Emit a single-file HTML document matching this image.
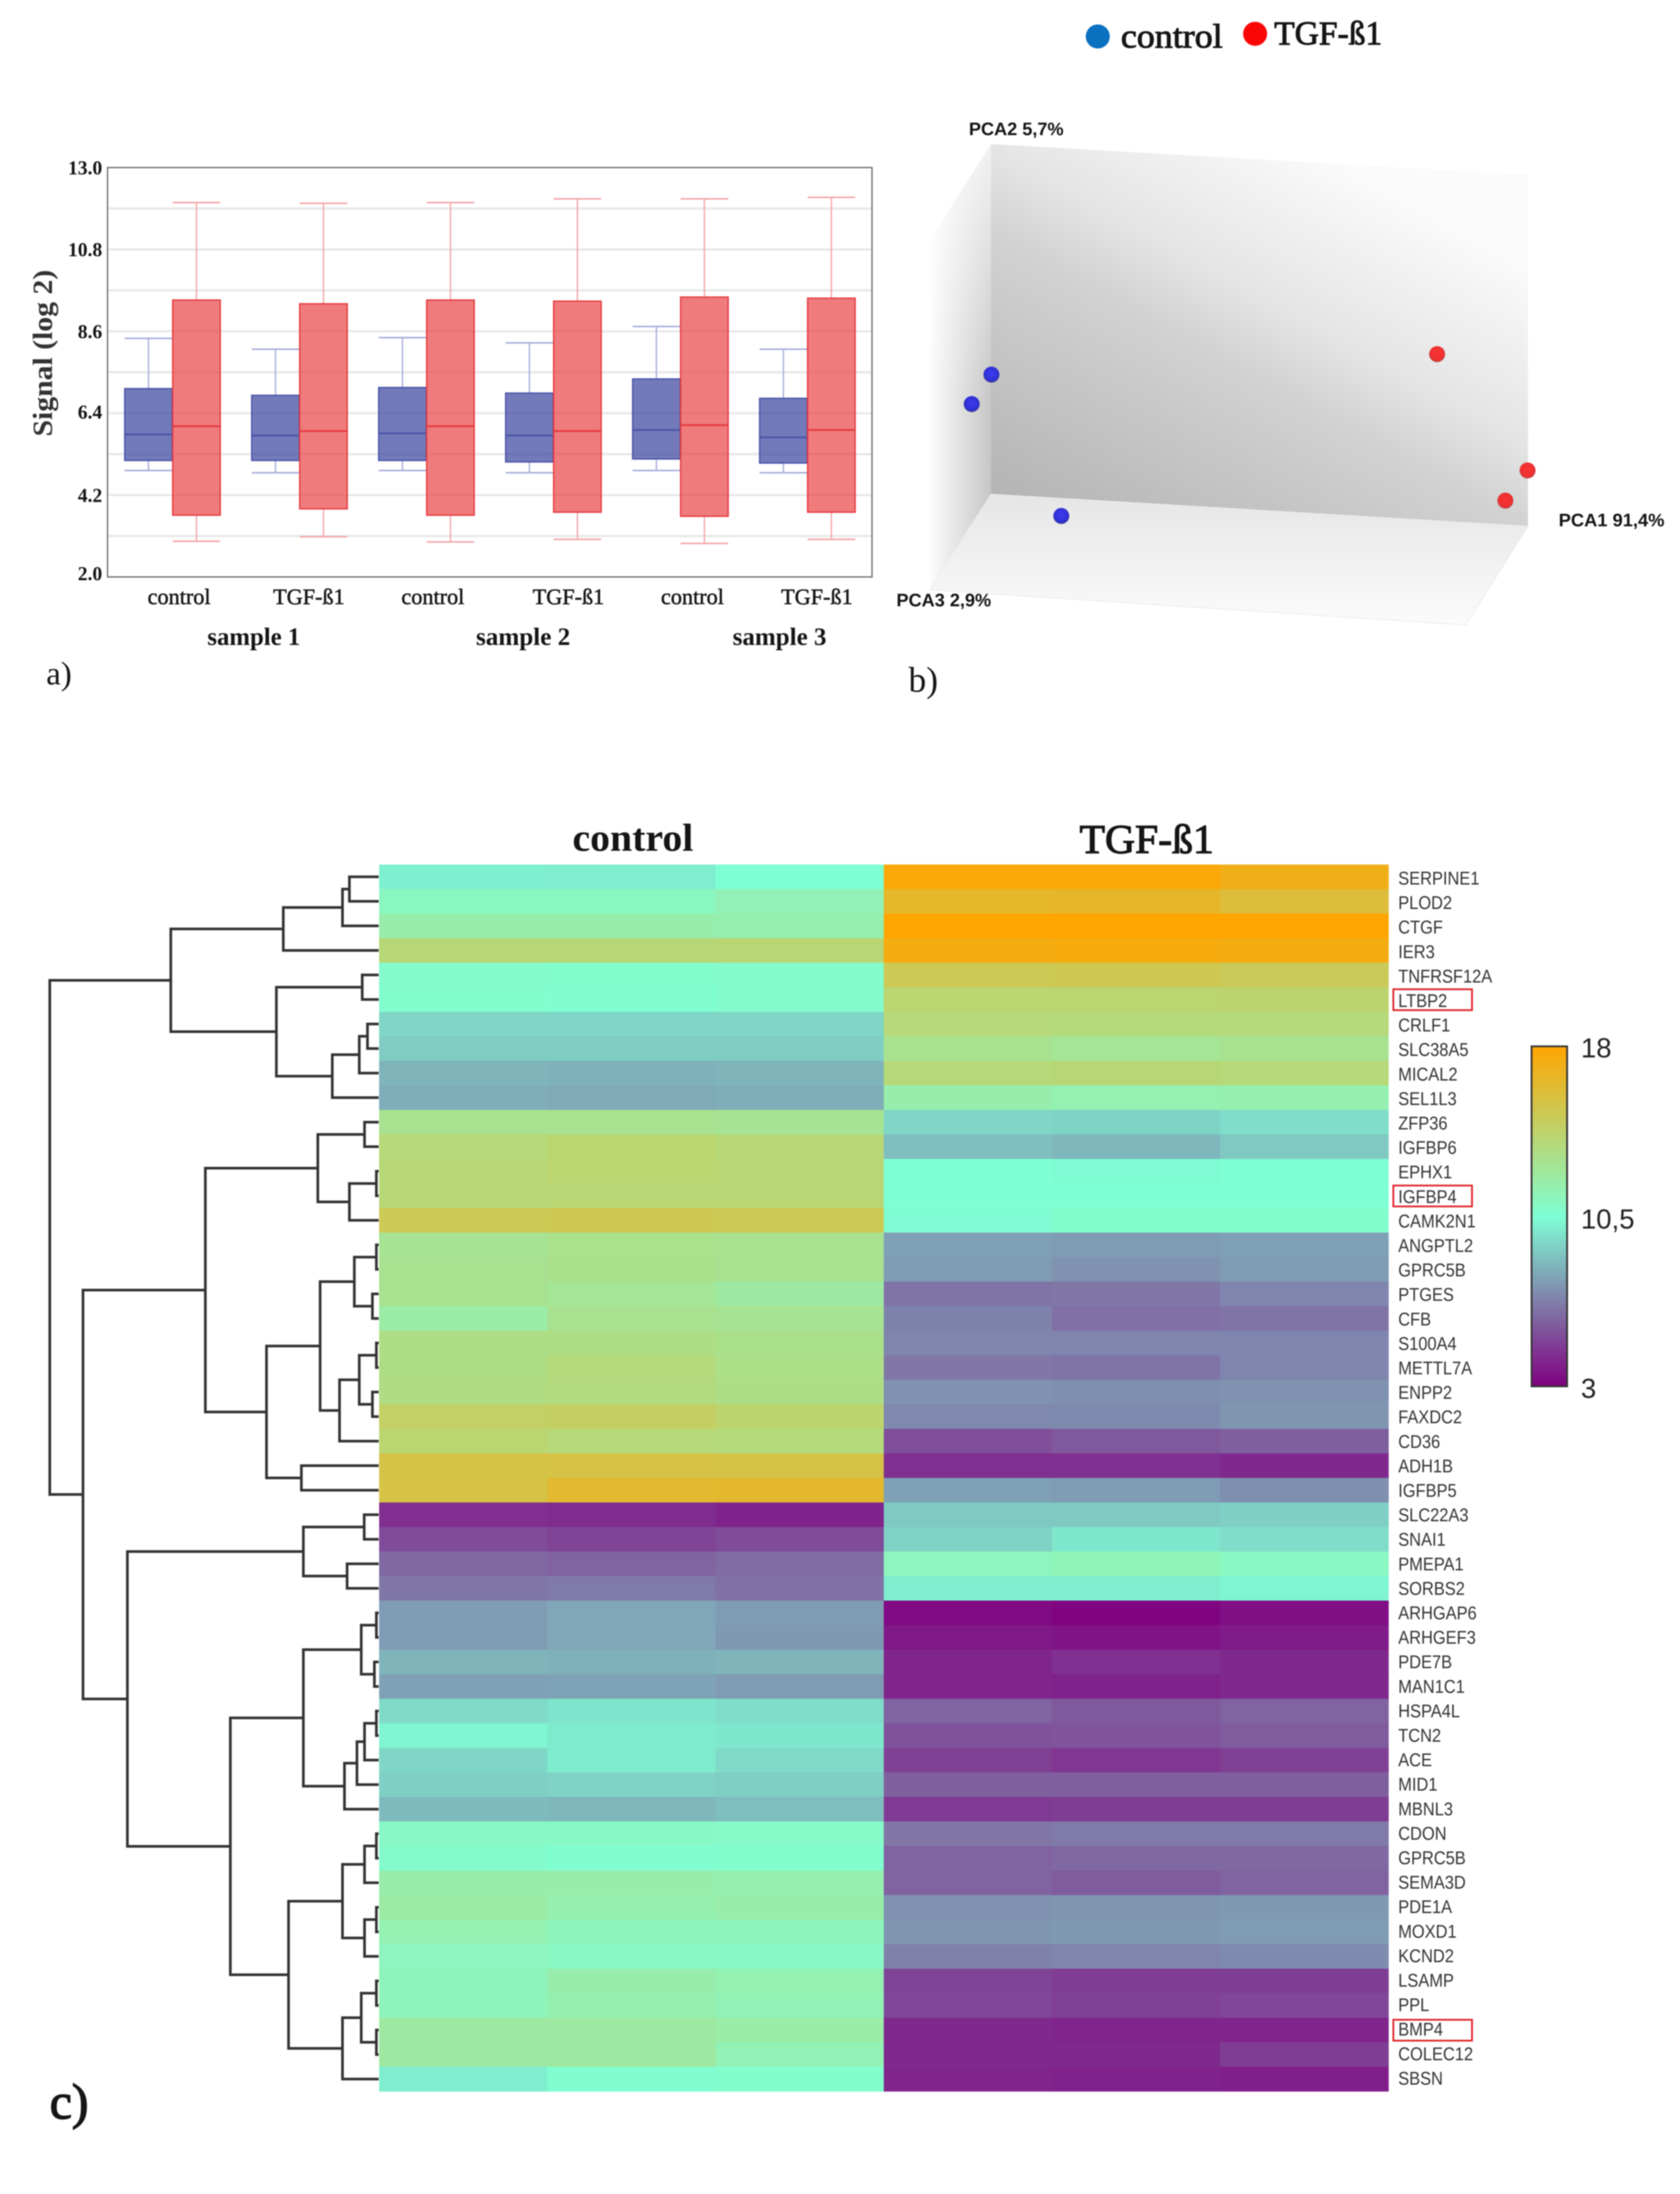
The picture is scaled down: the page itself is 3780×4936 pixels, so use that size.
<!DOCTYPE html>
<html lang="en">
<head>
<meta charset="utf-8">
<title>Expression analysis: box plot, PCA and heatmap</title>
<style>
html,body{margin:0;padding:0;background:#fff}
svg{display:block;filter:blur(1.2px)}
text{font-family:"Liberation Serif",serif;fill:#151515}
.sans{font-family:"Liberation Sans",sans-serif}
</style>
</head>
<body>
<svg id="fig" xmlns="http://www.w3.org/2000/svg" width="3780" height="4936" viewBox="0 0 3780 4936">
<defs>
  <linearGradient id="backGrad" gradientUnits="userSpaceOnUse" x1="2230" y1="1112" x2="2730" y2="200">
    <stop offset="0" stop-color="#b4b4b4"/><stop offset=".5" stop-color="#d2d2d2"/><stop offset=".65" stop-color="#e4e4e4"/><stop offset="1" stop-color="#fbfbfb"/>
  </linearGradient>
  <linearGradient id="leftGrad" gradientUnits="userSpaceOnUse" x1="2092" y1="0" x2="2230" y2="0">
    <stop offset="0" stop-color="#fcfcfc"/><stop offset="1" stop-color="#c6c6c6"/>
  </linearGradient>
  <linearGradient id="leftFade" gradientUnits="userSpaceOnUse" x1="0" y1="330" x2="0" y2="900">
    <stop offset="0" stop-color="#fff" stop-opacity=".75"/><stop offset="1" stop-color="#fff" stop-opacity="0"/>
  </linearGradient>
  <linearGradient id="floorGrad" gradientUnits="userSpaceOnUse" x1="0" y1="1120" x2="0" y2="1400">
    <stop offset="0" stop-color="#e6e6e6"/><stop offset="1" stop-color="#fbfbfb"/>
  </linearGradient>
  <linearGradient id="barGrad" x1="0" y1="0" x2="0" y2="1">
    <stop offset="0" stop-color="#ffa500"/><stop offset=".5" stop-color="#7fffd4"/><stop offset="1" stop-color="#800080"/>
  </linearGradient>
  <radialGradient id="blueDot" cx=".5" cy=".45" r=".55">
    <stop offset="0" stop-color="#3c3cf0"/><stop offset=".75" stop-color="#3030d8"/><stop offset="1" stop-color="#38388c"/>
  </radialGradient>
  <radialGradient id="redDot" cx=".5" cy=".45" r=".55">
    <stop offset="0" stop-color="#f83434"/><stop offset=".75" stop-color="#ee3030"/><stop offset="1" stop-color="#b84848"/>
  </radialGradient>
</defs>

<g id="panelA">
  <text transform="translate(117,982) rotate(-90)" font-size="62" font-weight="bold" textLength="375" lengthAdjust="spacingAndGlyphs" style="fill:#333">Signal (log 2)</text>
  <g id="gridLayer"></g>
  <g id="boxLayer"></g>
  <rect x="242" y="377" width="1720" height="921" fill="none" stroke="#6e6e6e" stroke-width="3"/>
  <g id="tickLayer"></g>
  <g font-size="50" text-anchor="middle" stroke="#151515" stroke-width="1">
    <text x="403" y="1359">control</text>
    <text x="695" y="1359">TGF-ß1</text>
    <text x="974" y="1359">control</text>
    <text x="1279" y="1359">TGF-ß1</text>
    <text x="1558" y="1359">control</text>
    <text x="1838" y="1359">TGF-ß1</text>
  </g>
  <g font-size="56" text-anchor="middle" font-weight="bold">
    <text x="571" y="1451" textLength="209" lengthAdjust="spacingAndGlyphs">sample 1</text>
    <text x="1177" y="1451" textLength="212" lengthAdjust="spacingAndGlyphs">sample 2</text>
    <text x="1754" y="1451" textLength="211" lengthAdjust="spacingAndGlyphs">sample 3</text>
  </g>
  <text x="104" y="1540" font-size="74">a)</text>
</g>

<g id="panelB">
  <circle cx="2470" cy="82" r="27" fill="#0a70c0"/>
  <text x="2522" y="107" font-size="76" stroke="#151515" stroke-width="2" textLength="229" lengthAdjust="spacingAndGlyphs">control</text>
  <circle cx="2824" cy="76" r="27" fill="#fb0606"/>
  <text x="2867" y="100" font-size="75" stroke="#151515" stroke-width="2" textLength="243" lengthAdjust="spacingAndGlyphs">TGF-ß1</text>

  <polygon points="2230,324 3438,393 3438,1184 2230,1112" fill="url(#backGrad)"/>
  <polygon points="2092,541 2230,324 2230,1112 2092,1327" fill="url(#leftGrad)"/>
  <polygon points="2092,541 2230,324 2230,1112 2092,1327" fill="url(#leftFade)"/>
  <polygon points="2092,1327 2230,1112 3438,1184 3298,1406" fill="url(#floorGrad)" stroke="#ececec" stroke-width="2"/>
  <g id="pcaLayer"></g>
  <g class="sans" font-size="41" font-weight="bold" style="font-family:'Liberation Sans',sans-serif">
    <text class="sans" x="2180" y="304" textLength="213" lengthAdjust="spacingAndGlyphs">PCA2 5,7%</text>
    <text class="sans" x="3507" y="1184" textLength="238" lengthAdjust="spacingAndGlyphs">PCA1 91,4%</text>
    <text class="sans" x="2017" y="1364" textLength="213" lengthAdjust="spacingAndGlyphs">PCA3 2,9%</text>
  </g>
  <text x="2044" y="1556" font-size="80">b)</text>
</g>

<g id="panelC">
  <text x="1288" y="1914" font-size="88" font-weight="bold" textLength="272" lengthAdjust="spacingAndGlyphs">control</text>
  <text x="2429" y="1919" font-size="92" stroke="#151515" stroke-width="2.4" textLength="302" lengthAdjust="spacingAndGlyphs">TGF-ß1</text>
  <g id="dendroLayer"></g>
  <g id="heatLayer"></g>
  <g id="geneLayer"></g>
  <rect x="3446" y="2354" width="80" height="765" fill="url(#barGrad)" stroke="#333" stroke-width="4"/>
  <g class="sans" style="font-family:'Liberation Sans',sans-serif" font-size="62">
    <text class="sans" x="3557" y="2379" style="fill:#222">18</text>
    <text class="sans" x="3557" y="2764" style="fill:#222">10,5</text>
    <text class="sans" x="3557" y="3145" style="fill:#222">3</text>
  </g>
  <text x="112" y="4766" font-size="112" stroke="#151515" stroke-width="3">c)</text>
</g>
</svg>

<script>
// ---------- Panel a: box plot data (log2 signal) ----------
const yTickValues = [2.0, 4.2, 6.4, 8.6, 10.8, 13.0];
const yTickLabels = ['2.0', '4.2', '6.4', '8.6', '10.8', '13.0'];
const gridValues = [11.9, 10.8, 9.7, 8.6, 7.5, 6.4, 5.3, 4.2, 3.1];
const blueMax = [8.41, 8.12, 8.43, 8.29, 8.73, 8.12];
const blueQ3 = [7.06, 6.88, 7.09, 6.94, 7.32, 6.80];
const blueMed = [5.83, 5.80, 5.86, 5.80, 5.95, 5.75];
const blueQ1 = [5.13, 5.13, 5.13, 5.09, 5.17, 5.06];
const blueMin = [4.86, 4.80, 4.86, 4.80, 4.86, 4.80];
const redMax = [12.06, 12.04, 12.06, 12.16, 12.16, 12.20];
const redQ3 = [9.44, 9.34, 9.44, 9.41, 9.52, 9.49];
const redMed = [6.05, 5.92, 6.05, 5.92, 6.08, 5.95];
const redQ1 = [3.66, 3.83, 3.66, 3.74, 3.63, 3.74];
const redMin = [2.96, 3.08, 2.94, 3.01, 2.90, 3.01];

// ---------- Panel b: PCA scores (normalised to the cube) ----------
const controlPca1 = [0.012, 0.021, 0.165];
const controlPca2 = [0.37, 0.396, 0.035];
const controlPca3 = [0.1, 0.5, 0.3];
const tgfPca1 = [0.865, 1.022, 1.015];
const tgfPca2 = [0.561, 0.216, 0.211];
const tgfPca3 = [0.3, 0.2, 0.5];

// ---------- Panel c: heatmap data ----------
const genes = ['SERPINE1','PLOD2','CTGF','IER3','TNFRSF12A','LTBP2','CRLF1','SLC38A5','MICAL2','SEL1L3','ZFP36','IGFBP6','EPHX1','IGFBP4','CAMK2N1','ANGPTL2','GPRC5B','PTGES','CFB','S100A4','METTL7A','ENPP2','FAXDC2','CD36','ADH1B','IGFBP5','SLC22A3','SNAI1','PMEPA1','SORBS2','ARHGAP6','ARHGEF3','PDE7B','MAN1C1','HSPA4L','TCN2','ACE','MID1','MBNL3','CDON','GPRC5B','SEMA3D','PDE1A','MOXD1','KCND2','LSAMP','PPL','BMP4','COLEC12','SBSN'];
const highlightedGenes = ['LTBP2', 'IGFBP4', 'BMP4'];
const controlValues = [
[10.05,10.0,10.5],[11.2,11.2,11.6],[11.9,11.9,11.8],[13.8,13.8,13.9],[10.8,10.7,10.8],
[10.7,10.6,10.8],[9.3,9.3,9.3],[9,9,9],[8.3,8.2,8.3],[8.1,8.0,8.1],
[12.9,12.9,12.8],[13.7,14.0,13.8],[13.8,14.0,13.9],[13.8,13.9,13.9],[15,15.1,15],
[12.8,13.0,12.9],[12.9,13.1,12.9],[12.9,12.7,12.3],[12.1,12.9,12.8],[13.3,13.3,13.1],
[13.3,13.6,13.2],[13.4,13.5,13.3],[14.4,14.5,14.1],[14.0,13.7,13.6],[15.5,15.6,15.5],
[15.6,16.3,16.4],[4.35,4.3,4.0],[5.2,5.0,5.2],[6.1,5.9,6.2],[6.5,6.6,6.3],
[7.6,7.9,7.6],[7.6,7.9,7.5],[8.3,8.2,8.3],[7.7,7.8,7.6],[9.4,9.7,9.5],
[10.2,9.9,9.8],[9.3,9.9,9.4],[9.1,9.2,9.1],[8.5,8.4,8.6],[11.0,11.0,10.9],
[10.8,10.6,10.7],[11.9,11.9,11.8],[12.2,11.8,12.0],[11.7,11.4,11.4],[11.3,11.1,11.0],
[11.4,11.9,11.7],[11.4,11.8,11.6],[12.3,12.3,12.1],[12.3,12.3,11.6],[10,10.6,10.7]
];
const tgfValues = [
[17.7,17.7,17.2],[16.5,16.6,16.0],[18,18,18],[17.4,17.5,17.4],[15,15.1,14.9],
[14,14,14.1],[13.7,13.6,13.6],[12.9,12.7,12.9],[13.7,13.8,13.7],[11.9,11.7,11.8],
[9.3,9.2,9.5],[8.6,8.4,8.9],[10.5,10.4,10.5],[10.5,10.5,10.5],[10.4,10.7,10.7],
[7.7,7.6,7.7],[7.6,7.3,7.6],[6.4,6.5,6.9],[6.85,6.3,6.4],[6.9,6.9,6.9],
[6.5,6.4,6.9],[7.3,7.2,7.3],[7.0,7.1,7.4],[5.3,5.6,5.8],[4.4,4.4,4.2],
[7.7,7.6,7.2],[8.9,8.9,9.1],[9.2,9.8,9.5],[11.3,11.5,11.1],[10,10,10.2],
[3.3,3.1,3.4],[3.7,3.6,3.8],[4.1,4.4,4.2],[4.1,4.0,4.2],[5.9,5.6,5.9],
[5.4,5.5,5.7],[4.9,4.6,4.9],[5.8,5.8,5.8],[4.7,4.8,4.8],[6.5,6.6,6.6],
[5.9,6.1,6.1],[5.9,5.7,5.9],[7.3,7.4,7.5],[7.4,7.5,7.6],[6.8,6.9,7.1],
[5.0,4.8,4.8],[5.1,4.9,5.1],[4.2,4.1,4.1],[4.2,4.2,4.8],[4.1,4.0,3.9]
];
// Dendrogram: [distance, childA, childB]; numbers are row indices of leaves.
const dendrogramTree = [100,
  [63.2,
    [29.0, [11.0, [8.9, 0, 1], 2], 3],
    [31.1, [5.0, 4, 5], [14.1, [5.9, [3.4, 6, 7], 8], 9]]
  ],
  [89.9,
    [52.7,
      [18.5, [4.3, 10, 11], [8.9, [0.7, 12, 13], 14]],
      [34.1,
        [17.8,
          [7.4, [0.7, 15, 16], [1.9, 17, 18]],
          [11.9, [5.9, [0.7, 19, 20], [1.9, 21, 22]], 23]
        ],
        [23.5, 24, 25]
      ]
    ],
    [76.4,
      [22.9, [4.4, 26, 27], [9.6, 28, 29]],
      [45.1,
        [22.9,
          [5.3, [0.7, 30, 31], [1.3, 32, 33]],
          [10.4, [6.6, [4.3, [0.7, 34, 35], 36], 37], 38]
        ],
        [27.4,
          [11.0, [4.3, [0.7, 39, 40], 41], [4.3, [0.7, 42, 43], 44]],
          [11.0, [5.3, [0.7, 45, 46], [0.7, 47, 48]], 49]
        ]
      ]
    ]
  ]
];

const SVGNS = 'http://www.w3.org/2000/svg';
function mk(tag, attrs, parent, txt) {
  const n = document.createElementNS(SVGNS, tag);
  for (const k in attrs) n.setAttribute(k, attrs[k]);
  if (txt !== undefined) n.textContent = txt;
  parent.appendChild(n);
  return n;
}

// ---------- Axis functions ----------
const yBox = v => 1298 - (v - 2) * (921 / 11);
const xPair = i => 280.6 + 285.7 * i;
const BOX_W = 107;
const projX = (a, b, c) => 2230 + 1208 * a - 138 * c;
const projY = (a, b, c) => 1112 + 72 * a - 788 * b + 215 * c;
const HM_LEFT = 853, HM_TOP = 1945, CELL_W = 378.5, ROW_H = 55.2;
const xCell = c => HM_LEFT + c * CELL_W;
const yRow = r => HM_TOP + r * ROW_H;
const yRowMid = r => yRow(r) + ROW_H / 2;
const yLabel = r => 1975 + 55.1 * r;
const xDist = d => 852 - d * 7.4;
function heatColor(v) {
  const lerp = (a, b, t) => Math.round(a + (b - a) * t);
  const low = [128, 0, 128], mid = [127, 255, 212], high = [255, 165, 0];
  const t = v <= 10.5 ? (v - 3) / 7.5 : (v - 10.5) / 7.5;
  const A = v <= 10.5 ? low : mid, B = v <= 10.5 ? mid : high;
  return 'rgb(' + lerp(A[0], B[0], t) + ',' + lerp(A[1], B[1], t) + ',' + lerp(A[2], B[2], t) + ')';
}

// ---------- Draw panel a ----------
const gridLayer = document.getElementById('gridLayer');
gridValues.forEach(v => {
  const el = mk('line', {x1: 244, x2: 1960, y1: yBox(v), y2: yBox(v), stroke: '#e8e8e8', 'stroke-width': 5}, gridLayer);
  
  
});
const tickLayer = document.getElementById('tickLayer');
yTickValues.forEach((v, i) => {
  const nudge = i === 0 ? -8 : (i === 2 ? -3 : 0);
  const el = mk('text', {x: 230, y: yBox(v) + 15 + nudge, 'text-anchor': 'end', 'font-size': 44, 'font-weight': 'bold'}, tickLayer, yTickLabels[i]);
  
  
});
function drawBox(layer, x, max, q3, med, q1, min, fill, stroke, whisk, prefix) {
  const cx = x + BOX_W / 2;
  const upper = mk('line', {x1: cx, x2: cx, y1: yBox(max), y2: yBox(q3), stroke: whisk, 'stroke-width': 3}, layer);
  
  
  const lower = mk('line', {x1: cx, x2: cx, y1: yBox(q1), y2: yBox(min), stroke: whisk, 'stroke-width': 3}, layer);
  
  
  const capTop = mk('line', {x1: x, x2: x + BOX_W, y1: yBox(max), y2: yBox(max), stroke: whisk, 'stroke-width': 3.5}, layer);
  
  
  const capLow = mk('line', {x1: x, x2: x + BOX_W, y1: yBox(min), y2: yBox(min), stroke: whisk, 'stroke-width': 3.5}, layer);
  
  
  const box = mk('rect', {x: x, y: yBox(q3), width: BOX_W, height: yBox(q1) - yBox(q3), fill: fill, stroke: stroke, 'stroke-width': 3}, layer);
  
  
  const m = mk('line', {x1: x, x2: x + BOX_W, y1: yBox(med), y2: yBox(med), stroke: stroke, 'stroke-width': 4}, layer);
  
  
}
const boxLayer = document.getElementById('boxLayer');
blueMax.forEach((_, i) => {
  drawBox(boxLayer, xPair(i), blueMax[i], blueQ3[i], blueMed[i], blueQ1[i], blueMin[i], 'rgba(60,70,160,.72)', '#4a54a8', '#a6acda', 'control');
  drawBox(boxLayer, xPair(i) + BOX_W + 1, redMax[i], redQ3[i], redMed[i], redQ1[i], redMin[i], 'rgba(232,60,64,.68)', '#e43a3e', '#f4a4a6', 'tgf');
});

// ---------- Draw panel b ----------
const pcaLayer = document.getElementById('pcaLayer');
controlPca1.forEach((a, i) => {
  const el = mk('circle', {cx: projX(a, controlPca2[i], controlPca3[i]), cy: projY(a, controlPca2[i], controlPca3[i]), r: 18, fill: 'url(#blueDot)'}, pcaLayer);
  
  
});
tgfPca1.forEach((a, i) => {
  const el = mk('circle', {cx: projX(a, tgfPca2[i], tgfPca3[i]), cy: projY(a, tgfPca2[i], tgfPca3[i]), r: 18, fill: 'url(#redDot)'}, pcaLayer);
  
  
});

// ---------- Draw panel c ----------
const heatLayer = document.getElementById('heatLayer');
genes.forEach((g, r) => {
  controlValues[r].concat(tgfValues[r]).forEach((v, c) => {
    const el = mk('rect', {x: xCell(c), y: yRow(r), width: CELL_W + 0.6, height: ROW_H + 0.6, fill: heatColor(v)}, heatLayer);
    
    
  });
});
const geneLayer = document.getElementById('geneLayer');
genes.forEach((g, r) => {
  const el = mk('text', {transform: 'translate(3146,' + (yLabel(r) + 15) + ') scale(.88,1)', 'font-size': 42, style: 'font-family:"Liberation Sans",sans-serif;fill:#333'}, geneLayer, g);
  
  
  if (highlightedGenes.includes(g)) {
    const box = mk('rect', {x: 3135, y: yRowMid(r) - 23, width: 177, height: 47, fill: 'none', stroke: '#e0242a', 'stroke-width': 4}, geneLayer);
    
    
  }
});
const dendroLayer = document.getElementById('dendroLayer');
function drawNode(node) {
  if (typeof node === 'number') return {x: 852, y: yRowMid(node)};
  const a = drawNode(node[1]), b = drawNode(node[2]);
  const x = xDist(node[0]);
  const el = mk('path', {d: 'M' + a.x + ' ' + a.y + 'H' + x + 'V' + b.y + 'H' + b.x, fill: 'none', stroke: '#333', 'stroke-width': 6}, dendroLayer);
  
  
  return {x: x, y: (a.y + b.y) / 2};
}
drawNode(dendrogramTree);
</script>
</body>
</html>
